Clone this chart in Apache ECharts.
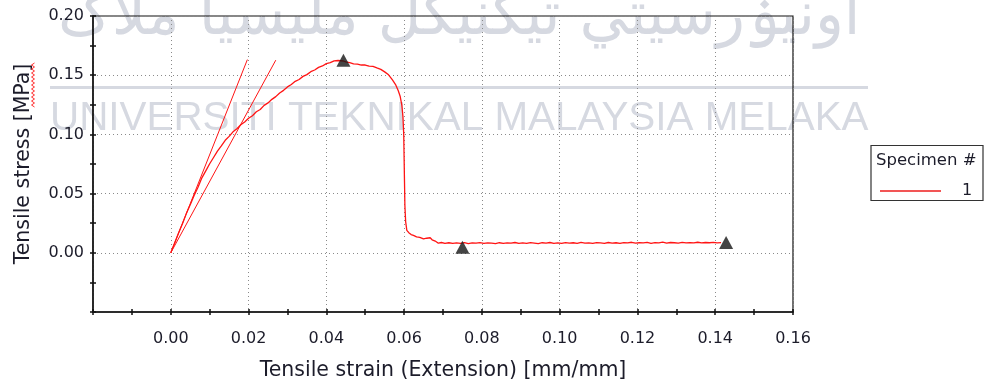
<!DOCTYPE html>
<html>
<head>
<meta charset="utf-8">
<script src="https://cdn.jsdelivr.net/npm/echarts@6/dist/echarts.min.js"></script>
<style>
  html, body { margin: 0; padding: 0; background: #fff; }
  #chart { width: 984px; height: 383px; }
</style>
</head>
<body>
<div id="chart"></div>
<script>
// Tensile test, specimen 1: strain [mm/mm] vs stress [MPa]
const strain = [
  0.0000, 0.0010, 0.0020, 0.0030, 0.0040, 0.0050, 0.0060, 0.0070, 0.0080, 0.0090,
  0.0100, 0.0110, 0.0120, 0.0130, 0.0140, 0.0150, 0.0160, 0.0170, 0.0180, 0.0190,
  0.0200, 0.0210, 0.0220, 0.0230, 0.0240, 0.0250, 0.0260, 0.0270, 0.0280, 0.0290,
  0.0300, 0.0310, 0.0320, 0.0330, 0.0340, 0.0350, 0.0360, 0.0370, 0.0380, 0.0390,
  0.0400, 0.0410, 0.0420, 0.0430, 0.0444, 0.0450, 0.0460, 0.0470, 0.0480, 0.0490,
  0.0500, 0.0510, 0.0520, 0.0530, 0.0540, 0.0550, 0.0560, 0.0570, 0.0578, 0.0585,
  0.0590, 0.0594, 0.0597, 0.0599, 0.0600, 0.0601, 0.0602, 0.0604, 0.0607, 0.0612,
  0.0618, 0.0624, 0.0632, 0.0640, 0.0650, 0.0658, 0.0667, 0.0672, 0.0680, 0.0688,
  0.0696, 0.0705, 0.0715, 0.0725, 0.0735, 0.0745, 0.0755, 0.0765, 0.0775, 0.0785,
  0.0795, 0.0805, 0.0815, 0.0825, 0.0835, 0.0845, 0.0855, 0.0865, 0.0875, 0.0885,
  0.0895, 0.0905, 0.0915, 0.0925, 0.0935, 0.0945, 0.0955, 0.0965, 0.0975, 0.0985,
  0.0995, 0.1005, 0.1015, 0.1025, 0.1035, 0.1045, 0.1055, 0.1065, 0.1075, 0.1085,
  0.1095, 0.1105, 0.1115, 0.1125, 0.1135, 0.1145, 0.1155, 0.1165, 0.1175, 0.1185,
  0.1195, 0.1205, 0.1215, 0.1225, 0.1235, 0.1245, 0.1255, 0.1265, 0.1275, 0.1285,
  0.1295, 0.1305, 0.1315, 0.1325, 0.1335, 0.1345, 0.1355, 0.1365, 0.1375, 0.1385,
  0.1395, 0.1405, 0.1415
];
const stress = [
  0.0000, 0.0083, 0.0167, 0.0246, 0.0331, 0.0406, 0.0485, 0.0554, 0.0633, 0.0692,
  0.0752, 0.0805, 0.0859, 0.0903, 0.0950, 0.0983, 0.1022, 0.1048, 0.1081, 0.1105,
  0.1137, 0.1158, 0.1191, 0.1210, 0.1245, 0.1266, 0.1296, 0.1319, 0.1350, 0.1372,
  0.1401, 0.1421, 0.1448, 0.1464, 0.1490, 0.1505, 0.1530, 0.1544, 0.1566, 0.1578,
  0.1598, 0.1606, 0.1621, 0.1624, 0.1620, 0.1612, 0.1607, 0.1596, 0.1594, 0.1586,
  0.1586, 0.1576, 0.1574, 0.1561, 0.1549, 0.1528, 0.1503, 0.1460, 0.1421, 0.1368,
  0.1320, 0.1250, 0.1150, 0.1000, 0.0800, 0.0600, 0.0400, 0.0262, 0.0190, 0.0170,
  0.0154, 0.0147, 0.0134, 0.0131, 0.0117, 0.0123, 0.0127, 0.0110, 0.0099, 0.0081,
  0.0087, 0.0080, 0.0085, 0.0079, 0.0084, 0.0080, 0.0086, 0.0078, 0.0083, 0.0081,
  0.0086, 0.0079, 0.0084, 0.0082, 0.0077, 0.0085, 0.0080, 0.0084, 0.0081, 0.0087,
  0.0079, 0.0083, 0.0080, 0.0086, 0.0082, 0.0078, 0.0085, 0.0081, 0.0087, 0.0080,
  0.0084, 0.0079, 0.0086, 0.0082, 0.0085, 0.0080, 0.0088, 0.0081, 0.0084, 0.0079,
  0.0086, 0.0083, 0.0080, 0.0087, 0.0082, 0.0085, 0.0079, 0.0086, 0.0084, 0.0089,
  0.0081, 0.0085, 0.0083, 0.0088, 0.0080, 0.0086, 0.0084, 0.0090, 0.0082, 0.0087,
  0.0085, 0.0081, 0.0088, 0.0084, 0.0086, 0.0083, 0.0089, 0.0084, 0.0087, 0.0085,
  0.0088, 0.0084, 0.0086
];

// Modulus (chord) lines drawn from the origin
const modulusA = [[0.0000, 0.0000], [0.0197, 0.1632]];
const modulusB = [[0.0000, 0.0000], [0.0270, 0.1627]];

// Result markers: maximum stress, break, end of test
const markerStrain = [0.0444, 0.0750, 0.1428];
const markerStress = [0.1626, 0.0047, 0.0086];

// Axis settings
const xMin = -0.02, xMax = 0.16, xStep = 0.02;
const yMin = -0.05, yMax = 0.20, yStep = 0.05;

const specimenName = '1';
const lineRed = '#ff1414';
const font = 'DejaVu Sans, Verdana, sans-serif';
const textColor = '#1c1c2a';

const curve = strain.map((x, i) => [x, stress[i]]);
const markers = markerStrain.map((x, i) => [x, markerStress[i]]);

const chart = echarts.init(document.getElementById('chart'), null, { renderer: 'canvas' });

function baseAxis(min, max, step) {
  return {
    type: 'value', min: min, max: max, interval: step,
    axisLine: { show: true, onZero: false, lineStyle: { color: '#111', width: 1.5 } },
    axisTick: { show: true, inside: false, length: 3, lineStyle: { color: '#111', width: 1.5 } },
    minorTick: { show: true, splitNumber: 2, length: 3, lineStyle: { color: '#111', width: 1.5 } },
    axisLabel: {
      showMinLabel: false, color: textColor, fontFamily: font, fontSize: 16,
      formatter: v => v.toFixed(2)
    },
    splitLine: { show: true, lineStyle: { color: '#8a8a8a', width: 1, type: [1, 3] } }
  };
}

// Twin axes carry the inner half of each tick so ticks cross the axis line
function innerTicks(min, max, step) {
  return {
    type: 'value', min: min, max: max, interval: step,
    axisLine: { show: false, onZero: false },
    axisTick: { show: true, inside: true, length: 3, lineStyle: { color: '#111', width: 1.5 } },
    minorTick: { show: true, splitNumber: 2, length: 3, lineStyle: { color: '#111', width: 1.5 } },
    axisLabel: { show: false },
    splitLine: { show: false }
  };
}

const xMain = Object.assign(baseAxis(xMin, xMax, xStep), {
  position: 'bottom',
  name: 'Tensile strain (Extension) [mm/mm]',
  nameLocation: 'middle', nameGap: 48,
  nameTextStyle: { color: textColor, fontFamily: font, fontSize: 20.5 }
});
xMain.axisLabel.margin = 19;
const yMain = Object.assign(baseAxis(yMin, yMax, yStep), {
  position: 'left',
  name: 'Tensile stress [MPa]',
  nameLocation: 'middle', nameGap: 59,
  nameTextStyle: { color: textColor, fontFamily: font, fontSize: 20.5 }
});
yMain.axisLabel.margin = 9;

const xInner = Object.assign(innerTicks(xMin, xMax, xStep), { position: 'bottom' });
const yInner = Object.assign(innerTicks(yMin, yMax, yStep), { position: 'left' });

// Red spell-check squiggle beside the unit of the stress label
const squiggle = [];
for (let y = 63, k = 0; y <= 108; y += 2, k++) squiggle.push([k % 2 ? 31.5 : 34.5, y]);

const wmColor = '#d6d9e1';

const option = {
  animation: false,
  backgroundColor: '#ffffff',
  grid: {
    left: 93, top: 16, right: 191, bottom: 71,
    containLabel: false, outerBoundsMode: 'none',
    show: true, borderColor: '#111', borderWidth: 1.2, backgroundColor: 'transparent'
  },
  xAxis: [xMain, xInner],
  yAxis: [yMain, yInner],
  legend: {
    data: [{ name: specimenName, icon: 'rect' }],
    left: 875, top: 178, z: 20,
    itemWidth: 61, itemHeight: 2,
    itemStyle: { color: '#f25555' },
    textStyle: { color: textColor, fontFamily: font, fontSize: 16, padding: [0, 0, 0, 16] },
    selectedMode: false
  },
  graphic: [
    {
      type: 'text', z: -5, left: 58, top: -12, silent: true,
      style: {
        text: 'اونيۏرسيتي تيکنيکل مليسيا ملاک',
        fontFamily: 'DejaVu Sans', fontSize: 60, fill: wmColor
      }
    },
    {
      type: 'rect', z: -5, silent: true,
      shape: { x: 50, y: 86, width: 818, height: 3 },
      style: { fill: wmColor }
    },
    {
      type: 'text', z: -5, left: 50, top: 99, silent: true,
      style: {
        text: 'UNIVERSITI TEKNIKAL MALAYSIA MELAKA',
        fontFamily: 'Liberation Sans, Arial, sans-serif', fontSize: 40.4, fill: wmColor
      }
    },
    {
      type: 'polyline', z: 10, silent: true,
      shape: { points: squiggle },
      style: { stroke: '#ff3030', lineWidth: 1, fill: null }
    },
    {
      type: 'rect', z: 1, silent: true,
      shape: { x: 871, y: 145.5, width: 112, height: 55 },
      style: { fill: '#fff', stroke: '#333', lineWidth: 1.2 }
    },
    {
      type: 'text', z: 6, silent: true, left: 876, top: 152,
      style: { text: 'Specimen #', fontFamily: font, fontSize: 16.5, fill: textColor }
    }
  ],
  series: [
    {
      name: specimenName, type: 'line', data: curve,
      symbol: 'none', smooth: false,
      lineStyle: { color: lineRed, width: 1.3 }, itemStyle: { color: lineRed },
      z: 3
    },
    {
      name: 'modulusA', type: 'line', data: modulusA, symbol: 'none',
      lineStyle: { color: lineRed, width: 1 }, z: 3
    },
    {
      name: 'modulusB', type: 'line', data: modulusB, symbol: 'none',
      lineStyle: { color: lineRed, width: 1 }, z: 3
    },
    {
      name: 'results', type: 'scatter', data: markers,
      symbol: 'triangle', symbolSize: [14, 13],
      itemStyle: { color: '#151515' }, z: 4
    }
  ]
};

chart.setOption(option);
</script>
</body>
</html>
